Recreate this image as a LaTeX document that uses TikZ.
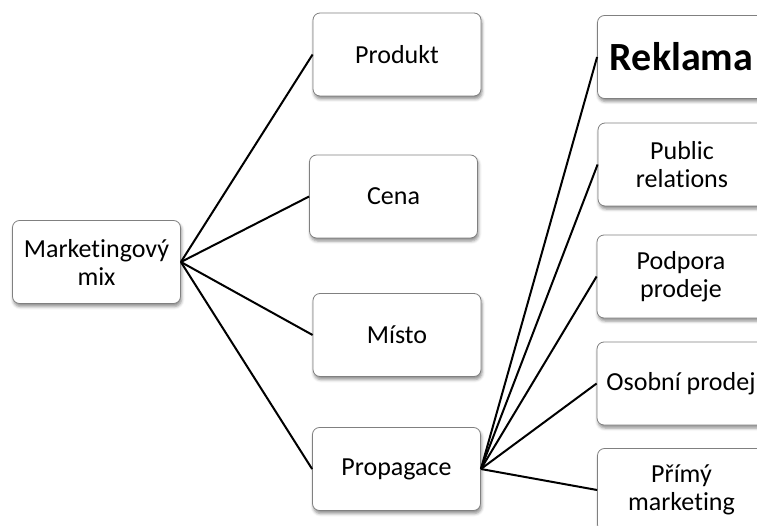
\documentclass[tikz,border=0pt]{standalone}
\usepackage{fontspec}
\setmainfont[Ligatures=CommonOff]{Carlito}
\usetikzlibrary{shadows.blur}
\tikzset{
  box/.style={draw=black!50, line width=0.8bp, fill=white, rounded corners=7bp,
    minimum width=168bp, minimum height=83bp, inner sep=0pt, align=center,
    font=\fontsize{26bp}{28bp}\selectfont,
    blur shadow={shadow xshift=1bp, shadow yshift=-3bp, shadow blur radius=3bp, shadow opacity=45}},
  link/.style={line width=2bp, black}
}
\begin{document}
\begin{tikzpicture}[x=1bp, y=-1bp]
\useasboundingbox (0,0) rectangle (757,526);
\clip (0,0) rectangle (757,526);
\node[box] (mix) at (96.5,262) {Marketingový\\mix};
\node[box] (produkt) at (397,54.5) {Produkt};
\node[box] (cena) at (393.5,196.5) {Cena};
\node[box] (misto) at (397,335) {Místo};
\node[box] (prop) at (396.5,469) {Propagace};
\node[box, font=\fontsize{40bp}{42bp}\selectfont\bfseries] (rekl) at (681.5,57) {Reklama};
\node[box] (pr) at (682,164.5) {Public\\relations};
\node[box] (podp) at (681,276.5) {Podpora\\prodeje};
\node[box] (osob) at (681,383.5) {Osobní prodej};
\node[box] (primy) at (681.5,490) {Přímý\\marketing};
\draw[link] (mix.east) -- (produkt.west);
\draw[link] (mix.east) -- (cena.west);
\draw[link] (mix.east) -- (misto.west);
\draw[link] (mix.east) -- (prop.west);
\draw[link] (prop.east) -- (rekl.west);
\draw[link] (prop.east) -- (pr.west);
\draw[link] (prop.east) -- (podp.west);
\draw[link] (prop.east) -- (osob.west);
\draw[link] (prop.east) -- (primy.west);
\end{tikzpicture}
\end{document}
